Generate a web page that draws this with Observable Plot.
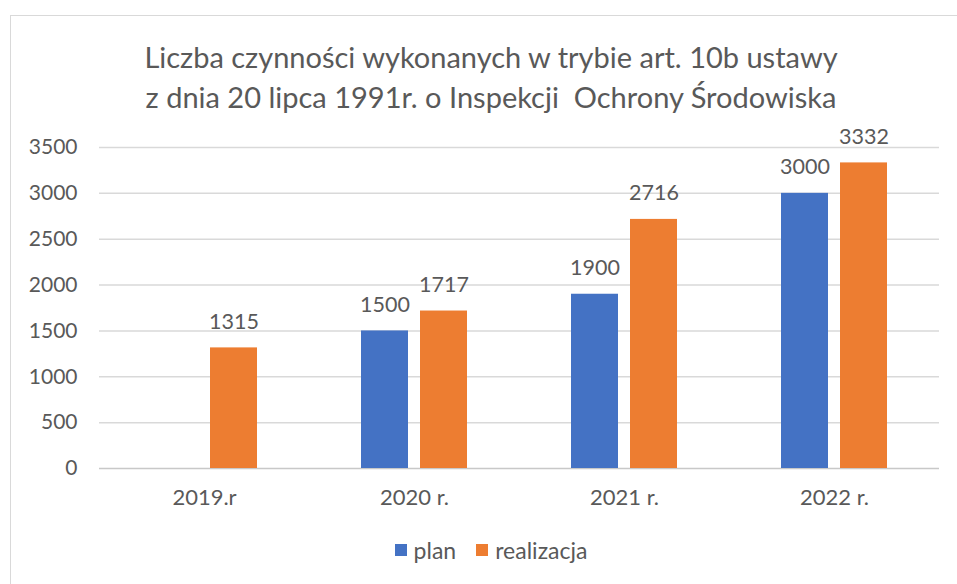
<!DOCTYPE html>
<html><head><meta charset="utf-8">
<script src="https://cdn.jsdelivr.net/npm/d3@7"></script>
<script src="https://cdn.jsdelivr.net/npm/@observablehq/plot@0.6"></script>
<style>
body{margin:0;background:#fff;overflow:hidden;font-family:Lato,"Open Sans",sans-serif;}
#box{position:absolute;left:10px;top:15px;width:962px;height:600px;border:1px solid #d9d9d9;box-sizing:border-box;}
#title{position:absolute;left:0;width:960px;top:21px;text-align:center;font-size:29px;line-height:40px;color:#595959;}
#chart{position:absolute;left:0;top:104px;}
#legend{position:absolute;left:0;width:960px;top:520px;display:flex;justify-content:center;align-items:center;font-size:23px;color:#595959;}
.sw{display:inline-block;width:12px;height:12px;margin-right:7px;}
.item{display:flex;align-items:center;margin:0 10px;}
</style></head>
<body>
<div id="box">
  <div id="title">Liczba czynności wykonanych w trybie art. 10b ustawy<br>z dnia 20 lipca 1991r. o Inspekcji&nbsp; Ochrony Środowiska</div>
  <div id="chart"></div>
  <div id="legend"></div>
</div>
<script>
const categories = ["2019.r", "2020 r.", "2021 r.", "2022 r."];
const series = ["plan", "realizacja"];
const plan = [null, 1500, 1900, 3000];
const realizacja = [1315, 1717, 2716, 3332];
const yTicks = [0, 500, 1000, 1500, 2000, 2500, 3000, 3500];
const colors = ["#4472C4", "#ED7D31"];

const rows = [];
categories.forEach((c, i) => {
  [plan, realizacja].forEach((arr, j) => {
    if (arr[i] != null) rows.push({cat: c, series: series[j], value: arr[i]});
  });
});

const chart = Plot.plot({
  width: 960,
  height: 398,
  marginLeft: 87,
  marginRight: 31,
  marginTop: 27,
  marginBottom: 50,
  style: {fontSize: "21px", fontFamily: "Lato, 'Open Sans', sans-serif", color: "#595959", background: "transparent"},
  fx: {domain: categories, paddingInner: 0, paddingOuter: 0, axis: "bottom", label: null, tickSize: 0, tickPadding: 21},
  x: {domain: series, axis: null, paddingInner: 0.2, paddingOuter: 0.854},
  y: {domain: [0, 3500], ticks: yTicks, tickSize: 0, tickPadding: 22, label: null, tickFormat: d => String(d)},
  color: {domain: series, range: colors},
  marks: [
    Plot.ruleY(yTicks.slice(1), {stroke: "#d9d9d9", strokeWidth: 1.5}),
    Plot.ruleY([0], {stroke: "#c8c8c8", strokeWidth: 1.5}),
    Plot.barY(rows, {fx: "cat", x: "series", y: "value", fill: "series"}),
    Plot.text(rows, {fx: "cat", x: "series", y: "value", text: d => String(d.value), dy: -26, fontSize: 21.5, fill: "#595959"})
  ]
});
document.getElementById("chart").appendChild(chart);
chart.querySelectorAll("g[aria-label='fx-axis tick label'] text, g[aria-label='fx-axis'] text").forEach(t => t.setAttribute("font-size", "22"));

const legend = document.getElementById("legend");
series.forEach((s, i) => {
  const it = document.createElement("div");
  it.className = "item";
  it.innerHTML = `<span class="sw" style="background:${colors[i]}"></span>${s}`;
  legend.appendChild(it);
});
</script>
</body></html>
